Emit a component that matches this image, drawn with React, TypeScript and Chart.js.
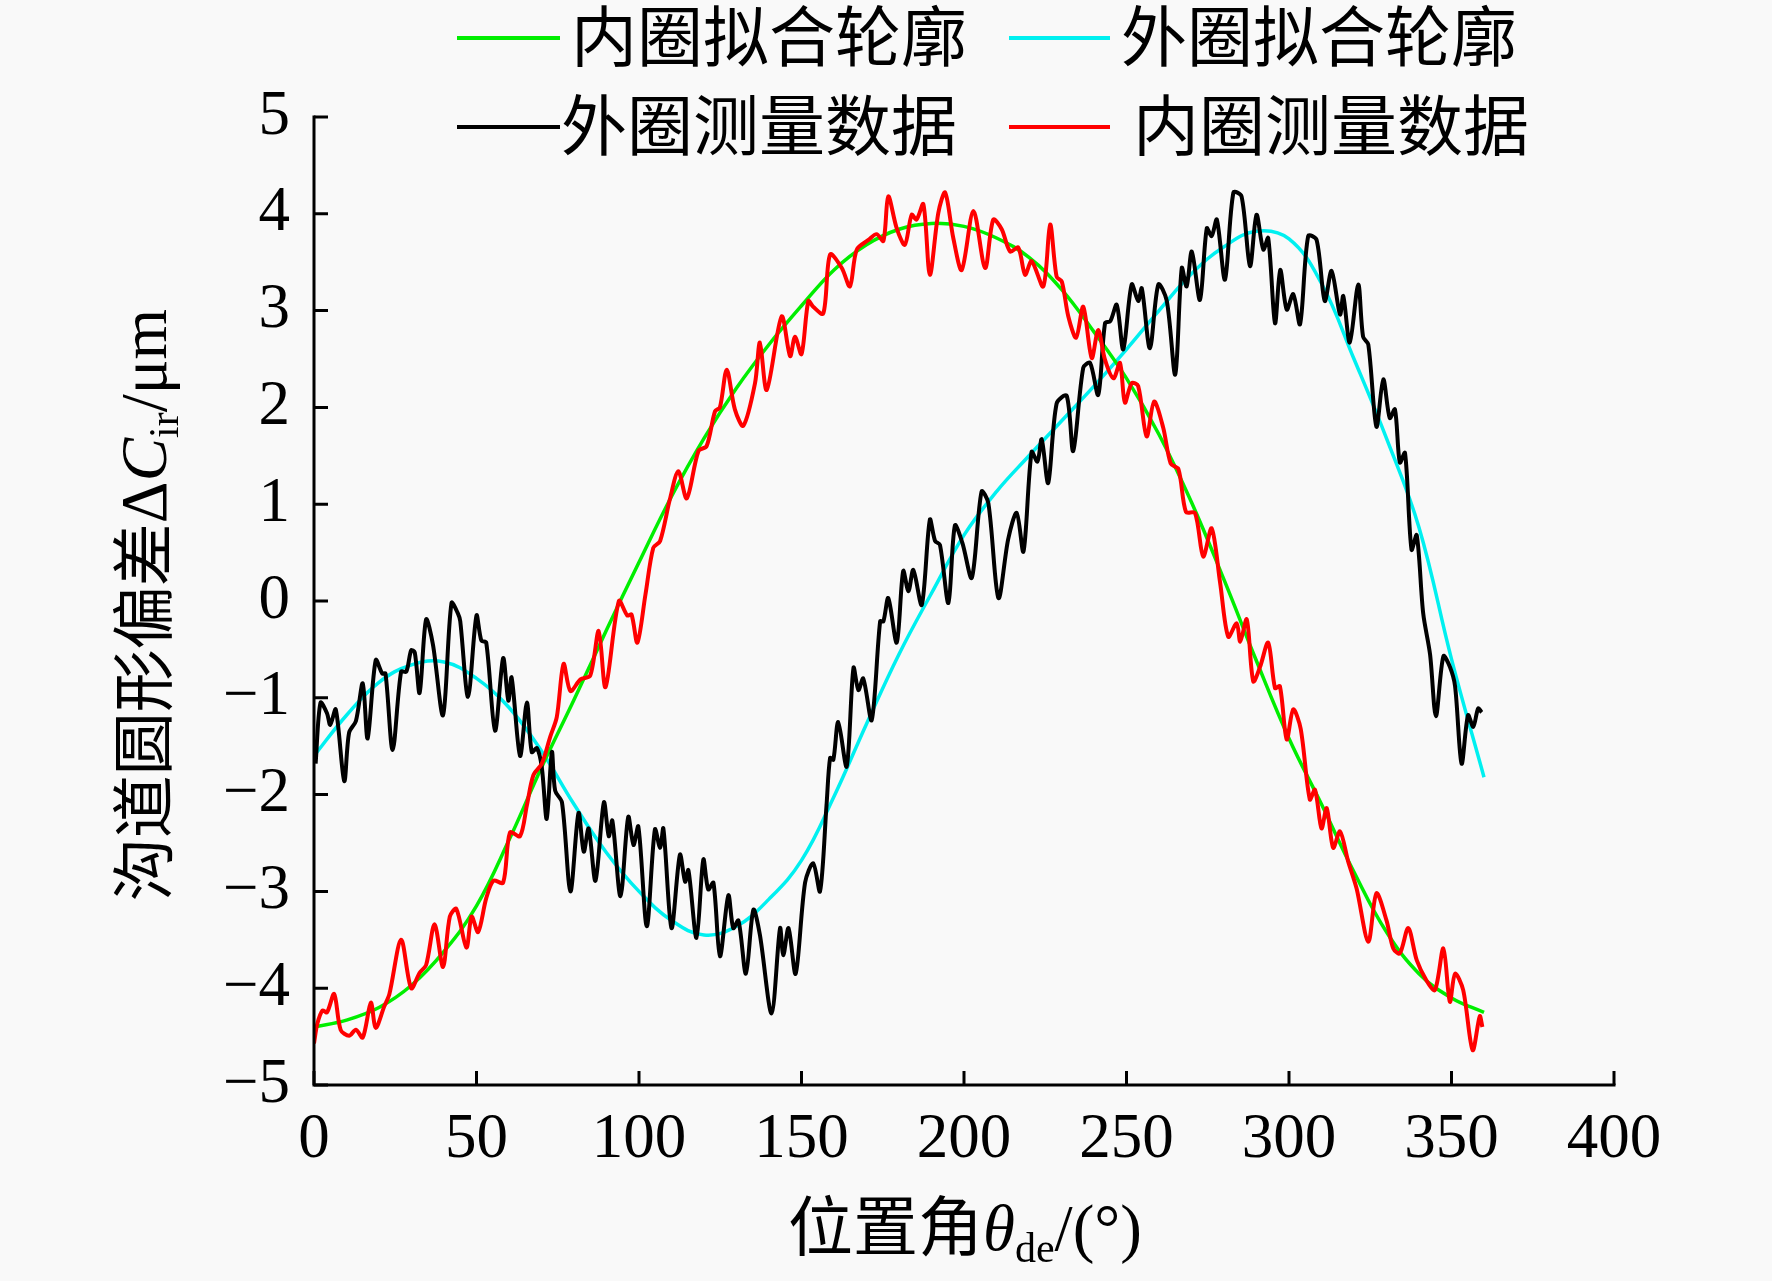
import { useEffect, useRef } from "react";
import { Chart, registerables } from "chart.js";

Chart.register(...registerables);

// [位置角 deg, 偏差 μm]
const innerFit: [number, number][] = [
  [0, -4.4], [10, -4.33], [20, -4.2], [30, -3.97], [40, -3.62], [50, -3.15],
  [60, -2.47], [70, -1.72], [80, -1.02], [90, -0.3], [100, 0.4], [110, 1.08],
  [120, 1.68], [130, 2.2], [140, 2.65], [150, 3.05], [160, 3.42], [170, 3.68],
  [180, 3.84], [190, 3.9], [200, 3.87], [210, 3.75], [220, 3.55], [230, 3.22],
  [240, 2.78], [250, 2.3], [260, 1.72], [270, 1.02], [280, 0.22], [290, -0.62],
  [300, -1.42], [310, -2.1], [320, -2.8], [330, -3.42], [340, -3.85],
  [350, -4.1], [360, -4.25],
];

const outerFit: [number, number][] = [
  [0, -1.6], [10, -1.18], [20, -0.84], [30, -0.66], [40, -0.63], [50, -0.8],
  [60, -1.1], [70, -1.55], [80, -2.1], [90, -2.6], [100, -3.0], [110, -3.3],
  [120, -3.45], [130, -3.36], [140, -3.08], [150, -2.68], [160, -2.02],
  [170, -1.27], [180, -0.55], [190, 0.08], [200, 0.68], [210, 1.13],
  [220, 1.5], [230, 1.86], [240, 2.22], [250, 2.6], [260, 3.0], [270, 3.38],
  [280, 3.66], [290, 3.82], [300, 3.74], [310, 3.28], [320, 2.5],
  [330, 1.68], [340, 0.76], [350, -0.6], [360, -1.82],
];

const outerMeasured: [number, number][] = [
  [0.5, -1.68], [2, -1.05], [4, -1.16], [5, -1.28], [6.7, -1.12], [9.3, -1.86],
  [10.8, -1.36], [12.9, -1.24], [15, -0.85], [16.5, -1.42], [19, -0.61],
  [21, -0.75], [22, -0.75], [24.2, -1.54], [26.8, -0.73], [28.4, -0.73],
  [29.9, -0.51], [31, -0.53], [32.5, -0.95], [34.5, -0.19], [36.6, -0.45],
  [39.7, -1.18], [42.3, -0.02], [44.3, -0.13], [45, -0.21], [47.4, -0.99],
  [50, -0.15], [51.5, -0.41], [53, -0.43], [55.7, -1.34], [58.2, -0.59],
  [59.8, -1.03], [60.8, -0.79], [63.4, -1.6], [65.5, -1.05], [67, -1.56],
  [68.6, -1.52], [70.1, -1.72], [71.6, -2.25], [73.2, -1.56], [74.2, -1.96],
  [76.3, -2.08], [78.9, -3.0], [81.4, -2.19], [83, -2.59], [84.5, -2.35],
  [86.6, -2.89], [89.2, -2.08], [90.7, -2.43], [91.8, -2.27], [94.3, -3.05],
  [96.7, -2.23], [98.3, -2.52], [99.8, -2.33], [102.4, -3.36], [104.9, -2.36],
  [106.5, -2.55], [107.5, -2.35], [110, -3.38], [112.6, -2.62], [114.2, -2.9],
  [115.2, -2.78], [117.7, -3.48], [119.8, -2.67], [121.3, -2.98],
  [122.9, -2.91], [124.9, -3.67], [127.5, -3.04], [129, -3.38], [130.6, -3.3],
  [132.9, -3.85], [135.2, -3.19], [137.2, -3.45], [140.8, -4.26],
  [143.4, -3.38], [144.4, -3.66], [146, -3.38], [148.2, -3.85], [151.1, -2.91],
  [153.6, -2.71], [155.7, -3.0], [157.7, -2.11], [158.8, -1.62],
  [159.8, -1.64], [161.3, -1.25], [163.9, -1.71], [166, -0.69], [167.5, -0.92],
  [169, -0.8], [171.6, -1.23], [174.2, -0.21], [175.2, -0.21], [176.7, 0.03],
  [179.3, -0.43], [181.3, 0.31], [182.9, 0.1], [184.4, 0.32], [187, -0.04],
  [189.5, 0.84], [191.1, 0.62], [192.6, 0.58], [195.2, -0.02], [197.2, 0.78],
  [199.5, 0.6], [202.4, 0.24], [205.4, 1.13], [207.5, 1.01], [210.6, 0.03],
  [213.6, 0.64], [216.2, 0.91], [218.3, 0.51], [220.8, 1.54], [222.6, 1.44],
  [223.9, 1.67], [225.9, 1.22], [228.5, 2.04], [231.6, 2.12], [233.6, 1.55],
  [236.7, 2.41], [238.8, 2.46], [241.3, 2.13], [243.4, 2.87], [245, 2.89],
  [247, 3.06], [249, 2.6], [251.6, 3.27], [253.6, 3.1], [254.7, 3.23],
  [257.2, 2.61], [259.8, 3.27], [262.4, 3.1], [265, 2.34], [267, 3.44],
  [268.5, 3.25], [270.1, 3.61], [272.6, 3.11], [274.7, 3.85], [276.2, 3.77],
  [277.8, 3.94], [280.3, 3.32], [282.9, 4.22], [285.4, 4.18], [288, 3.46],
  [290, 3.99], [292.1, 3.63], [293.6, 3.75], [295.7, 2.87], [297.3, 3.42],
  [299.3, 3.01], [301.3, 3.17], [303.4, 2.86], [305.9, 3.77], [308.5, 3.73],
  [311, 3.1], [313.1, 3.41], [315.7, 2.96], [316.7, 3.15], [318.7, 2.67],
  [321.3, 3.27], [322.8, 2.73], [324.4, 2.65], [326.9, 1.8], [329, 2.29],
  [331, 1.89], [332.6, 1.98], [334.1, 1.43], [335.7, 1.53], [337.7, 0.53],
  [339.3, 0.68], [341.3, -0.13], [343.4, -0.55], [345.2, -1.19],
  [347.5, -0.57], [349.5, -0.68], [351.1, -0.88], [353.1, -1.68],
  [355.1, -1.18], [356.7, -1.3], [358.2, -1.11], [359.3, -1.15],
];

const innerMeasured: [number, number][] = [
  [0, -4.57], [1, -4.37], [2.6, -4.23], [4, -4.25], [6.2, -4.06], [8.2, -4.43],
  [10.8, -4.49], [12.9, -4.43], [15, -4.51], [17.5, -4.15], [19, -4.41],
  [21.6, -4.19], [23.2, -4.06], [26.8, -3.5], [29.9, -4.0], [32.5, -3.84],
  [34.5, -3.76], [37.1, -3.34], [39.7, -3.78], [41.8, -3.26], [43.8, -3.18],
  [46.9, -3.58], [48.5, -3.26], [50.5, -3.42], [53, -3.07], [55.2, -2.89],
  [58.2, -2.91], [60.3, -2.39], [63.4, -2.43], [65.5, -2.11], [67.5, -1.8],
  [70.1, -1.68], [72.7, -1.4], [74.7, -1.2], [76.8, -0.65], [78.9, -0.93],
  [82, -0.81], [85, -0.77], [87.6, -0.31], [89.7, -0.89], [93.8, 0.0],
  [96.4, -0.15], [97.7, -0.14], [99.5, -0.43], [102, 0.07], [104.4, 0.55],
  [106.5, 0.62], [109.5, 1.05], [112.1, 1.34], [114.7, 1.06], [118.3, 1.55],
  [120.8, 1.6], [123.4, 1.96], [124.9, 2.0], [127, 2.39], [129.5, 1.98],
  [132.1, 1.81], [135.7, 2.25], [137.2, 2.67], [139.3, 2.18], [143.9, 2.94],
  [146.5, 2.53], [148, 2.73], [150, 2.55], [152.1, 3.1], [153.6, 3.04],
  [156.7, 2.97], [158.8, 3.58], [162.4, 3.44], [164.9, 3.25], [167, 3.63],
  [170.6, 3.73], [173.1, 3.79], [175.2, 3.72], [176.7, 4.18], [179.3, 3.85],
  [181.8, 3.68], [183.9, 3.99], [185.4, 3.94], [187.5, 4.1], [189.5, 3.37],
  [192.1, 4.01], [194.2, 4.22], [196.7, 3.75], [199.3, 3.42], [202.9, 4.03],
  [206.5, 3.44], [209, 3.94], [211.6, 3.84], [214.2, 3.61], [216.7, 3.65],
  [218.8, 3.37], [220.8, 3.51], [224.4, 3.25], [226.5, 3.89], [228.5, 3.35],
  [230.1, 3.3], [232.1, 2.94], [234.5, 2.72], [236.7, 3.04], [239.3, 2.51],
  [241.3, 2.8], [243.4, 2.49], [246, 2.3], [248, 2.46], [249.5, 2.05],
  [251.6, 2.25], [253.6, 2.22], [256.2, 1.7], [258.5, 2.06], [261.3, 1.79],
  [263.6, 1.42], [266, 1.36], [268.3, 0.92], [271.1, 0.91], [273.6, 0.46],
  [276.2, 0.75], [278.8, 0.19], [281.3, -0.37], [283.9, -0.23], [285, -0.42],
  [287, -0.19], [289, -0.83], [291.1, -0.68], [293.6, -0.43], [295.7, -0.9],
  [297.2, -0.88], [299.3, -1.43], [301.3, -1.12], [303.6, -1.32],
  [306.4, -2.05], [308, -1.95], [310, -2.35], [311.6, -2.14], [313.6, -2.55],
  [315.7, -2.38], [318.2, -2.69], [320.8, -2.97], [324.4, -3.52],
  [326.9, -3.02], [330, -3.3], [332.1, -3.59], [334.1, -3.64], [336.7, -3.38],
  [339.3, -3.71], [342.3, -3.92], [344.9, -4.02], [347.5, -3.59],
  [349.5, -4.14], [351.1, -3.85], [353.6, -4.02], [356.5, -4.64],
  [358.7, -4.29], [359.5, -4.4],
];

const xTicks = [0, 50, 100, 150, 200, 250, 300, 350, 400];
const yTicks = [-5, -4, -3, -2, -1, 0, 1, 2, 3, 4, 5];

const GREEN = "#00ee00";
const CYAN = "#00f0f0";
const BLACK = "#000000";
const RED = "#ff0000";

const CJK = '"Noto Sans CJK SC"';
const SERIF = '"Liberation Serif"';

type Part = { t: string; f: string; dy?: number };

const drawRich = (ctx: CanvasRenderingContext2D, parts: Part[], cx: number, cy: number) => {
  let total = 0;
  const widths = parts.map((p) => {
    ctx.font = p.f;
    const w = ctx.measureText(p.t).width;
    total += w;
    return w;
  });
  let x = cx - total / 2;
  ctx.textAlign = "left";
  ctx.textBaseline = "alphabetic";
  parts.forEach((p, i) => {
    ctx.font = p.f;
    ctx.fillText(p.t, x, cy + (p.dy || 0));
    x += widths[i];
  });
};

// legend placement: [line start, line end, text start, middle y]
const legendSlots = [
  [457, 560, 571, 38],
  [1009, 1110, 1121, 38],
  [457, 560, 561, 127],
  [1009, 1110, 1133, 127],
];

const decor = {
  id: "decor",
  beforeDraw(chart: any) {
    const ctx = chart.ctx;
    ctx.save();
    ctx.fillStyle = "#f9f9f9";
    ctx.fillRect(0, 0, chart.width, chart.height);
    ctx.restore();
  },
  afterDraw(chart: any) {
    const ctx: CanvasRenderingContext2D = chart.ctx;
    const { left, right, top, bottom } = chart.chartArea;
    const xs = chart.scales.x;
    const ys = chart.scales.y;
    ctx.save();
    ctx.strokeStyle = "#000";
    ctx.lineWidth = 3;
    ctx.lineCap = "butt";
    ctx.beginPath();
    ctx.moveTo(left, top - 1.5);
    ctx.lineTo(left, bottom);
    ctx.lineTo(right + 1.5, bottom);
    ctx.stroke();
    ctx.beginPath();
    yTicks.forEach((v) => {
      const p = ys.getPixelForValue(v);
      ctx.moveTo(left, p);
      ctx.lineTo(left + 14, p);
    });
    xTicks.forEach((v) => {
      const p = xs.getPixelForValue(v);
      ctx.moveTo(p, bottom);
      ctx.lineTo(p, bottom - 14);
    });
    ctx.stroke();

    // legend
    ctx.fillStyle = "#000";
    chart.data.datasets.forEach((ds: any, i: number) => {
      const [x1, x2, tx, y] = legendSlots[i];
      ctx.strokeStyle = ds.borderColor;
      ctx.lineWidth = 4;
      ctx.beginPath();
      ctx.moveTo(x1, y);
      ctx.lineTo(x2, y);
      ctx.stroke();
      ctx.font = `66px ${CJK}`;
      ctx.textAlign = "left";
      ctx.textBaseline = "middle";
      ctx.fillText(ds.label, tx, y - 2);
    });

    // axis titles
    drawRich(
      ctx,
      [
        { t: "位置角", f: `65px ${CJK}` },
        { t: "θ", f: `italic 65px ${SERIF}` },
        { t: "de", f: `42px ${SERIF}`, dy: 12 },
        { t: "/(°)", f: `65px ${SERIF}` },
      ],
      965,
      1250
    );
    ctx.save();
    ctx.translate(166, 605);
    ctx.rotate(-Math.PI / 2);
    drawRich(
      ctx,
      [
        { t: "沟道圆形偏差", f: `63px ${CJK}` },
        { t: "Δ", f: `65px ${SERIF}` },
        { t: "C", f: `italic 65px ${SERIF}` },
        { t: "ir", f: `42px ${SERIF}`, dy: 12 },
        { t: "/μm", f: `65px ${SERIF}` },
      ],
      0,
      0
    );
    ctx.restore();
    ctx.restore();
  },
};

const toPoints = (arr: [number, number][]) => arr.map(([x, y]) => ({ x, y }));

const App = () => {
  const canvasRef = useRef<HTMLCanvasElement>(null);
  useEffect(() => {
    document.body.style.margin = "0";
    const chart = new Chart(canvasRef.current!, {
      type: "line",
      data: {
        datasets: [
          {
            label: "内圈拟合轮廓",
            data: toPoints(innerFit),
            borderColor: GREEN,
            borderWidth: 3.5,
            pointRadius: 0,
            tension: 0.4,
            order: 3,
          },
          {
            label: "外圈拟合轮廓",
            data: toPoints(outerFit),
            borderColor: CYAN,
            borderWidth: 3.5,
            pointRadius: 0,
            tension: 0.4,
            order: 4,
          },
          {
            label: "外圈测量数据",
            data: toPoints(outerMeasured),
            borderColor: BLACK,
            borderWidth: 4,
            pointRadius: 0,
            tension: 0.3,
            order: 2,
          },
          {
            label: "内圈测量数据",
            data: toPoints(innerMeasured),
            borderColor: RED,
            borderWidth: 4,
            pointRadius: 0,
            tension: 0.3,
            order: 1,
          },
        ],
      },
      options: {
        animation: false,
        responsive: false,
        devicePixelRatio: 1,
        layout: { padding: { left: 0, top: 117, right: 158, bottom: 0 } },
        plugins: {
          legend: { display: false },
          tooltip: { enabled: false },
        },
        scales: {
          x: {
            type: "linear",
            min: 0,
            max: 400,
            afterBuildTicks: (s: any) => {
              s.ticks = xTicks.map((value) => ({ value }));
            },
            afterFit: (s: any) => {
              s.height = 196;
            },
            grid: { display: false, drawTicks: false },
            border: { display: false },
            ticks: {
              padding: 18,
              color: "#000",
              font: { family: "Liberation Serif", size: 63 },
              maxRotation: 0,
            },
          },
          y: {
            type: "linear",
            min: -5,
            max: 5,
            afterBuildTicks: (s: any) => {
              s.ticks = yTicks.map((value) => ({ value }));
            },
            afterFit: (s: any) => {
              s.width = 314;
            },
            grid: { display: false, drawTicks: false },
            border: { display: false },
            ticks: {
              padding: 24,
              color: "#000",
              font: { family: "Liberation Serif", size: 63 },
              callback: (v: any) => (v < 0 ? "−" + Math.abs(v) : String(v)),
            },
          },
        },
      },
      plugins: [decor],
    });
    return () => {
      chart.destroy();
    };
  }, []);

  return (
    <div style={{ width: 1772, height: 1281 }}>
      <canvas ref={canvasRef} width={1772} height={1281} style={{ width: 1772, height: 1281 }} />
    </div>
  );
};

export default App;
